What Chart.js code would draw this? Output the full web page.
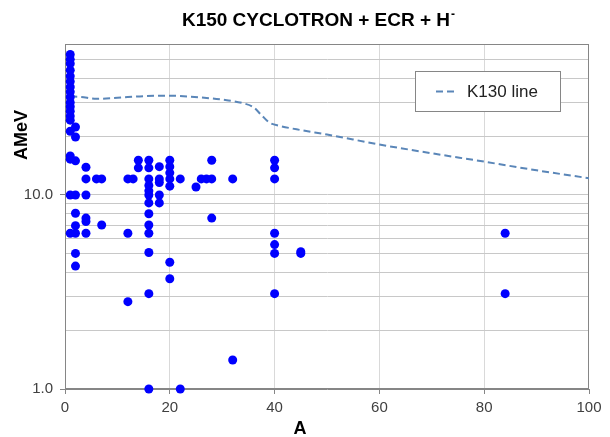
<!DOCTYPE html>
<html>
<head>
<meta charset="utf-8">
<script src="https://cdn.jsdelivr.net/npm/chart.js@4.4.1/dist/chart.umd.min.js"></script>
<style>
  html, body { margin: 0; padding: 0; background: #fff; }
</style>
</head>
<body>
<canvas id="chart" width="610" height="437"></canvas>
<script>
// ion mass number (A) and energy per nucleon (AMeV), one entry per beam
const ionMass = [
  1, 1, 1, 1, 1, 1, 1, 1, 1, 1, 1, 1, 1, 1, 1, 1, 1, 1, 1,
  2, 2, 2, 2, 2, 2, 2, 2, 2,
  4, 4, 4, 4, 4, 4,
  6,
  7, 7,
  12, 12, 12,
  13,
  14, 14,
  16, 16, 16, 16, 16, 16, 16, 16, 16, 16, 16, 16, 16,
  18, 18, 18, 18, 18,
  20, 20, 20, 20, 20, 20, 20,
  22, 22,
  25, 26, 27,
  28, 28, 28,
  32, 32,
  40, 40, 40, 40, 40, 40, 40,
  45, 45,
  84, 84
];
const ionEnergy = [
  53, 50, 47.5, 44, 41, 38.5, 36, 34, 32, 30, 28.5, 27, 25.5, 24.3, 21.3, 15.9, 15.3, 10, 6.35,
  22.4, 19.9, 15.0, 10, 8.05, 6.95, 6.35, 5.0, 4.3,
  13.9, 12.1, 10, 7.6, 7.3, 6.35,
  12.1,
  12.1, 7.0,
  12.1, 6.35, 2.82,
  12.1,
  15.1, 13.8,
  15.1, 13.8, 12.1, 11.2, 10.5, 10, 9.1, 8.0, 7.0, 6.35, 5.05, 3.1, 1.0,
  14, 12.1, 11.6, 10, 9.1,
  15.1, 14, 13, 12.1, 11.1, 4.5, 3.7,
  12.1, 1.0,
  11.0, 12.1, 12.1,
  15.1, 12.1, 7.6,
  12.1, 1.41,
  15.1, 13.8, 12.1, 6.35, 5.55, 5.0, 3.1,
  5.1, 5.0,
  6.35, 3.1
];

// K130 limit line
const k130Mass = [1, 3, 6, 10, 15, 20, 24, 30, 34, 36, 37.5, 39, 41, 45, 50, 60, 70, 80, 90, 100];
const k130Energy = [32.2, 32.0, 31.3, 31.7, 32.3, 32.5, 32.1, 31.0, 29.7, 28.3, 25.8, 23.6, 22.7, 21.6, 20.5, 18.2, 16.4, 14.85, 13.4, 12.2];

const yGridValues = [1, 2, 3, 4, 5, 6, 7, 8, 9, 10, 20, 30, 40, 50, 60];
const yTickLabels = { 1: '1.0', 10: '10.0' };

const FONT = "'Liberation Sans', Arial, sans-serif";
const AXIS_GREY = '#868686';

const ionPoints = ionMass.map((a, i) => ({ x: a, y: ionEnergy[i] }));
const k130Points = k130Mass.map((a, i) => ({ x: a, y: k130Energy[i] }));

const frame = {
  id: 'frame',
  beforeDatasetsDraw(chart) {
    const { ctx, chartArea: a } = chart;
    ctx.save();
    ctx.strokeStyle = AXIS_GREY;
    ctx.lineWidth = 1;
    ctx.strokeRect(Math.round(a.left) + 0.5, Math.round(a.top) + 0.5,
      Math.round(a.right - a.left) - 1, Math.round(a.bottom - a.top) - 1);
    ctx.restore();
  },
  afterDraw(chart) {
    const ctx = chart.ctx;
    ctx.save();
    ctx.fillStyle = '#000';
    ctx.textBaseline = 'middle';

    // title with superscript minus
    ctx.font = 'bold 19px ' + FONT;
    const main = 'K150 CYCLOTRON + ECR + H';
    const w = ctx.measureText(main).width;
    ctx.font = 'bold 12px ' + FONT;
    const sw = ctx.measureText('-').width;
    const x0 = 318 - (w + sw) / 2;
    ctx.font = 'bold 19px ' + FONT;
    ctx.textAlign = 'left';
    ctx.fillText(main, x0, 21);
    ctx.font = 'bold 12px ' + FONT;
    ctx.fillText('-', x0 + w + 1, 15);

    // axis titles
    ctx.font = 'bold 18px ' + FONT;
    ctx.textAlign = 'center';
    ctx.fillText('A', 300, 429);
    ctx.save();
    ctx.translate(22, 135);
    ctx.rotate(-Math.PI / 2);
    ctx.fillText('AMeV', 0, 0);
    ctx.restore();

    // legend box
    ctx.fillStyle = '#fff';
    ctx.fillRect(415, 71, 145, 40);
    ctx.strokeStyle = AXIS_GREY;
    ctx.lineWidth = 1;
    ctx.strokeRect(415.5, 71.5, 145, 40);
    ctx.strokeStyle = '#5A86B8';
    ctx.lineWidth = 2;
    ctx.setLineDash([7, 4]);
    ctx.beginPath();
    ctx.moveTo(436, 91.5);
    ctx.lineTo(458, 91.5);
    ctx.stroke();
    ctx.setLineDash([]);
    ctx.fillStyle = '#222';
    ctx.font = '17px ' + FONT;
    ctx.textAlign = 'left';
    ctx.fillText('K130 line', 467, 92);
    ctx.restore();
  }
};

new Chart(document.getElementById('chart'), {
  type: 'scatter',
  data: {
    datasets: [
      {
        label: 'Beams',
        data: ionPoints,
        backgroundColor: '#0000FF',
        borderWidth: 0,
        pointRadius: 4.5,
        clip: false,
        order: 1
      },
      {
        label: 'K130 line',
        data: k130Points,
        showLine: true,
        borderColor: '#5A86B8',
        borderWidth: 2,
        borderDash: [7, 4],
        pointRadius: 0,
        cubicInterpolationMode: 'monotone',
        order: 2
      }
    ]
  },
  options: {
    responsive: false,
    animation: false,
    devicePixelRatio: 1,
    layout: { padding: { top: 44, right: 21, left: 0, bottom: 0 } },
    plugins: { legend: { display: false }, tooltip: { enabled: false } },
    scales: {
      x: {
        type: 'linear',
        min: 0,
        max: 100,
        ticks: { stepSize: 20, color: '#404040', font: { family: FONT, size: 15 }, padding: 5 },
        grid: {
          color: c => (c.tick && (c.tick.value === 0 || c.tick.value === 100)) ? 'rgba(0,0,0,0)' : '#D9D9D9',
          tickColor: AXIS_GREY,
          tickLength: 5
        },
        border: { color: AXIS_GREY },
        afterFit(s) { s.height = 48; }
      },
      y: {
        type: 'logarithmic',
        min: 1,
        max: 60,
        afterBuildTicks(s) { s.ticks = yGridValues.map(v => ({ value: v })); },
        ticks: {
          autoSkip: false,
          color: '#404040',
          font: { family: FONT, size: 15 },
          padding: 7,
          callback: v => yTickLabels[v] || ''
        },
        grid: {
          color: c => (c.tick && (c.tick.value === 1 || c.tick.value === 60)) ? 'rgba(0,0,0,0)' : '#C8C8C8',
          tickColor: c => (c.tick && (c.tick.value === 1 || c.tick.value === 10)) ? AXIS_GREY : 'rgba(0,0,0,0)',
          tickLength: 5
        },
        border: { color: AXIS_GREY },
        afterFit(s) { s.width = 65; }
      }
    }
  },
  plugins: [frame]
});
</script>
</body>
</html>
